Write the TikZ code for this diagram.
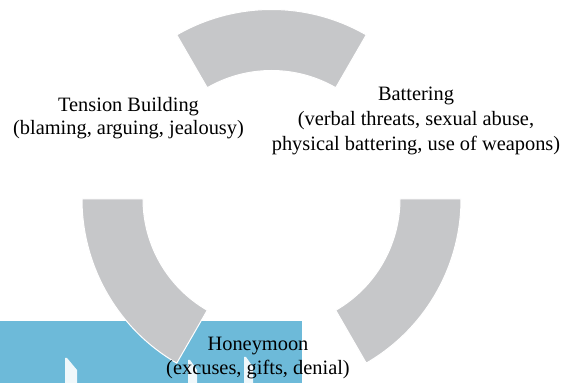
\documentclass[tikz,border=0pt]{standalone}
\usepackage{fontspec}
\setmainfont{Liberation Serif}
\definecolor{segGray}{HTML}{C6C7C9}
\definecolor{bandBlue}{HTML}{6DBAD9}
\begin{document}
\begin{tikzpicture}[x=1pt,y=1pt,
  seg/.style={fill=segGray,draw=white,line width=1pt,line join=miter},
  glow/.style={fill=white,opacity=0.9},
  lbl/.style={anchor=base,inner sep=0pt,font=\fontsize{20.4}{24}\selectfont}]
\useasboundingbox (0,0) rectangle (563,383);
% blue band
\fill[bandBlue] (0,0) rectangle (302,62);
% white glows in band
\fill[glow] (65,0) -- (65,25) -- (67,25) -- (77,13) -- (77,0) -- cycle;
\fill[glow] (188,0) -- (188,23) -- (190,23) -- (197,13) -- (197,0) -- cycle;
\fill[glow] (244,0) -- (244,26) -- (246,26) -- (253,16) -- (253,0) -- cycle;
% cycle segments
\begin{scope}[shift={(271.5,184)}]
\draw[seg] (60:189.5) arc[start angle=60,end angle=120,radius=189.5]
  -- (120:128.5) arc[start angle=120,end angle=60,radius=128.5] -- cycle;
\draw[seg] (180:189.5) arc[start angle=180,end angle=240,radius=189.5]
  -- (240:128.5) arc[start angle=240,end angle=180,radius=128.5] -- cycle;
\draw[seg] (300:189.5) arc[start angle=300,end angle=360,radius=189.5]
  -- (0:128.5) arc[start angle=360,end angle=300,radius=128.5] -- cycle;
\end{scope}
% labels
\node[lbl] (tb1) at (128.5,271) {Tension Building};
\node[lbl] (tb2) at (128.5,248) {(blaming, arguing, jealousy)};
\node[lbl] (bt1) at (416,282) {Battering};
\node[lbl] (bt2) at (416,257) {(verbal threats, sexual abuse,};
\node[lbl] (bt3) at (416,232) {physical battering, use of weapons)};
\node[lbl] (hm1) at (258,32) {Honeymoon};
\node[lbl] (hm2) at (258,8) {(excuses, gifts, denial)};
\end{tikzpicture}
\end{document}
